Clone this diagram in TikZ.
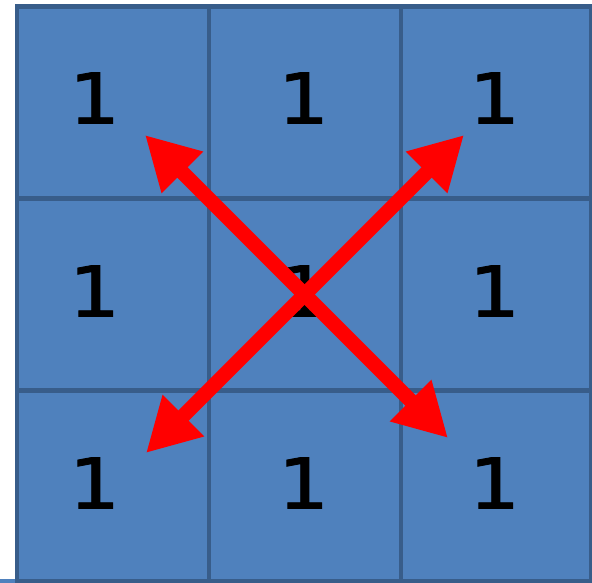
\documentclass[tikz,border=0pt]{standalone}
\usepackage{fontspec}
\newfontfamily\digitfont[FakeStretch=1.2,FakeBold=1.2]{DejaVu Sans Mono}
\usetikzlibrary{arrows.meta}

\definecolor{cellblue}{HTML}{4F81BD}
\definecolor{gridline}{HTML}{385D8A}

\tikzset{
  digit/.style={font=\digitfont\fontsize{70}{70}\selectfont, inner sep=0pt},
  gridrule/.style={gridline, line width=4.5pt},
  crossarrow/.style={red, line width=14.5pt,
    {Triangle[length=53pt,width=55pt]}-{Triangle[length=53pt,width=55pt]}}
}

\begin{document}
\begin{tikzpicture}[x=1pt,y=-1pt]
    \useasboundingbox (0,0) rectangle (592,583);

    % Small strip at the bottom left
    \fill[cellblue] (0,579) rectangle (15,583);

    % Cells
    \fill[cellblue] (17,6.5) rectangle (591,581);

    % Grid lines
    \draw[gridrule] (17,6.5) rectangle (591,581);
    \draw[gridrule] (209,6.5) -- (209,581);
    \draw[gridrule] (401,6.5) -- (401,581);
    \draw[gridrule] (17,198.5) -- (591,198.5);
    \draw[gridrule] (17,390.5) -- (591,390.5);

    % Numbers
    \node[digit] (n11) at (93,98) {1};
    \node[digit] (n12) at (302,98) {1};
    \node[digit] (n13) at (493,98) {1};
    \node[digit] (n21) at (93,291) {1};
    \node[digit] (n22) at (302,291) {1};
    \node[digit] (n23) at (493,291) {1};
    \node[digit] (n31) at (93,483) {1};
    \node[digit] (n32) at (302,483) {1};
    \node[digit] (n33) at (493,483) {1};

    % Arrow ends
    \coordinate (topleft) at (145,135);
    \coordinate (botright) at (448,438);
    \coordinate (topright) at (464,135);
    \coordinate (botleft) at (146,453);

    % Crossing arrows
    \draw[crossarrow] (topleft) -- (botright);
    \draw[crossarrow] (topright) -- (botleft);
\end{tikzpicture}
\end{document}
